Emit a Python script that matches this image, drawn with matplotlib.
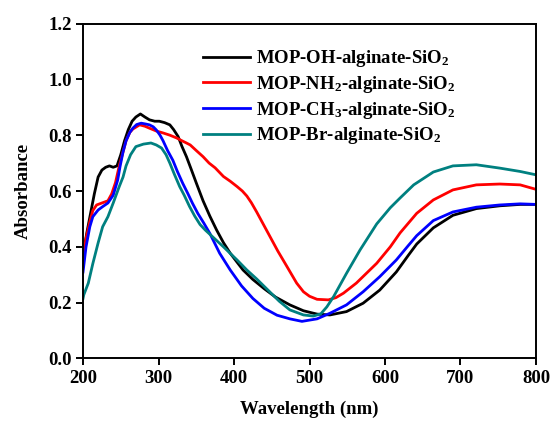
import matplotlib
matplotlib.use("Agg")
import matplotlib.pyplot as plt

plt.rcParams['font.family'] = ['Liberation Serif', 'DejaVu Serif']
plt.rcParams['font.weight'] = 'bold'
plt.rcParams['mathtext.fontset'] = 'custom'
plt.rcParams['mathtext.rm'] = 'Liberation Serif:bold'
plt.rcParams['mathtext.bf'] = 'Liberation Serif:bold'

# UV-Vis spectra (wavelength in nm, absorbance)
wl_oh = [200, 205, 210, 215, 220, 225, 230, 235, 240, 245, 250, 255, 260, 265, 270, 276,
         282, 288, 295, 301, 308, 315, 320, 326, 331, 337, 343, 350, 359, 368, 377, 386,
         395, 404, 412, 425, 440, 455, 474, 492, 510, 527, 549, 571, 593, 615, 631, 642,
         664, 690, 721, 752, 779, 800]
ab_oh = [0.37, 0.45, 0.52, 0.59, 0.65, 0.675, 0.685, 0.69, 0.685, 0.69, 0.73, 0.78, 0.82,
         0.85, 0.865, 0.876, 0.865, 0.855, 0.85, 0.85, 0.845, 0.837, 0.82, 0.795, 0.76,
         0.723, 0.68, 0.629, 0.565, 0.51, 0.46, 0.415, 0.377, 0.345, 0.317, 0.283, 0.25,
         0.22, 0.192, 0.171, 0.159, 0.156, 0.168, 0.198, 0.245, 0.31, 0.37, 0.41, 0.468,
         0.513, 0.537, 0.547, 0.552, 0.552]

wl_nh2 = [200, 204, 209, 213, 218, 223, 228, 233, 238, 243, 248, 253, 257, 262, 266, 275,
          282, 288, 297, 306, 315, 324, 331, 337, 342, 350, 359, 367, 375, 386, 395, 404,
          411, 417, 423, 430, 439, 448, 458, 470, 483, 492, 500, 510, 525, 535, 545, 562,
          589, 607, 620, 642, 664, 690, 721, 752, 779, 800]
ab_nh2 = [0.36, 0.43, 0.49, 0.53, 0.55, 0.555, 0.56, 0.565, 0.59, 0.63, 0.69, 0.74, 0.78,
          0.81, 0.822, 0.837, 0.832, 0.825, 0.815, 0.808, 0.80, 0.79, 0.78, 0.772, 0.765,
          0.745, 0.723, 0.70, 0.683, 0.652, 0.635, 0.616, 0.60, 0.582, 0.558, 0.525, 0.48,
          0.435, 0.385, 0.33, 0.27, 0.239, 0.223, 0.212, 0.21, 0.218, 0.234, 0.27, 0.341,
          0.40, 0.45, 0.52, 0.568, 0.604, 0.622, 0.625, 0.622, 0.606]

wl_ch3 = [200, 204, 209, 213, 220, 226, 233, 240, 246, 249, 253, 257, 262, 266, 271, 277,
          283, 288, 293, 297, 302, 306, 312, 319, 325, 332, 339, 345, 352, 360, 368,
          381, 395, 410, 425, 440, 457, 474, 490, 510, 527, 549, 571, 593, 615, 631, 642,
          664, 690, 721, 752, 779, 800]
ab_ch3 = [0.31, 0.40, 0.472, 0.508, 0.532, 0.544, 0.557, 0.585, 0.64, 0.687, 0.74, 0.78,
          0.81, 0.825, 0.838, 0.843, 0.84, 0.837, 0.83, 0.819, 0.80, 0.78, 0.745, 0.71,
          0.67, 0.628, 0.59, 0.556, 0.52, 0.485, 0.448, 0.377, 0.317, 0.26, 0.215,
          0.18, 0.155, 0.142, 0.133, 0.142, 0.162, 0.192, 0.239, 0.293, 0.353, 0.405,
          0.44, 0.494, 0.525, 0.542, 0.55, 0.554, 0.552]

wl_br = [200, 201, 207, 213, 220, 226, 233, 240, 248, 253, 257, 263, 270, 280, 290, 297,
         304, 310, 315, 321, 328, 334, 341, 348, 355, 362, 370, 386, 404, 417, 430, 445, 460,
         474, 492, 505, 515, 523, 532, 549, 567, 589, 607, 620, 638, 664, 690, 721, 752,
         779, 800]
ab_br = [0.215, 0.228, 0.27, 0.34, 0.414, 0.472, 0.508, 0.557, 0.616, 0.65, 0.69, 0.73,
         0.759, 0.768, 0.772, 0.765, 0.754, 0.73, 0.70, 0.66, 0.616, 0.585, 0.545, 0.51,
         0.48, 0.46, 0.44, 0.40, 0.353, 0.317, 0.285, 0.245, 0.205, 0.174, 0.156, 0.152,
         0.16, 0.185, 0.222, 0.305, 0.389, 0.482, 0.54, 0.575, 0.622, 0.668, 0.69, 0.694,
         0.682, 0.67, 0.658]

labels = [
    r'MOP-OH-alginate-SiO$\mathregular{_2}$',
    r'MOP-NH$\mathregular{_2}$-alginate-SiO$\mathregular{_2}$',
    r'MOP-CH$\mathregular{_3}$-alginate-SiO$\mathregular{_2}$',
    r'MOP-Br-alginate-SiO$\mathregular{_2}$',
]
colors = ['#000000', '#ff0000', '#0000ff', '#008080']

x_ticks = [200, 300, 400, 500, 600, 700, 800]
y_ticks = [0.0, 0.2, 0.4, 0.6, 0.8, 1.0, 1.2]

fig = plt.figure(figsize=(5.52, 4.23), dpi=100)
ax = fig.add_axes([0.1504, 0.1525, 0.8206, 0.7919])

series = [(wl_oh, ab_oh), (wl_nh2, ab_nh2), (wl_ch3, ab_ch3), (wl_br, ab_br)]
for (wl, ab), lab, col in zip(series, labels, colors):
    ax.plot(wl, ab, color=col, lw=2.0, label=lab, solid_joinstyle='round')

ax.set_xlim(200, 800)
ax.set_ylim(0, 1.2)
ax.set_xticks(x_ticks)
ax.set_yticks(y_ticks)
ax.set_xticklabels([str(t) for t in x_ticks])
ax.set_yticklabels([f'{t:.1f}' for t in y_ticks])
ax.tick_params(axis='both', direction='out', length=5, width=1.4,
               labelsize=13.5, pad=3)
for s in ax.spines.values():
    s.set_linewidth(1.4)

ax.set_xlabel('Wavelength (nm)', fontsize=13.5, fontweight='bold', labelpad=10)
ax.set_ylabel('Absorbance', fontsize=13.5, fontweight='bold', labelpad=12)

leg = ax.legend(loc='upper left', bbox_to_anchor=(0.265, 0.926), frameon=False,
                fontsize=13.5, handlelength=2.5, handletextpad=0.3,
                labelspacing=0.25, borderaxespad=0, borderpad=0)

fig.savefig('out.png', dpi=100)
